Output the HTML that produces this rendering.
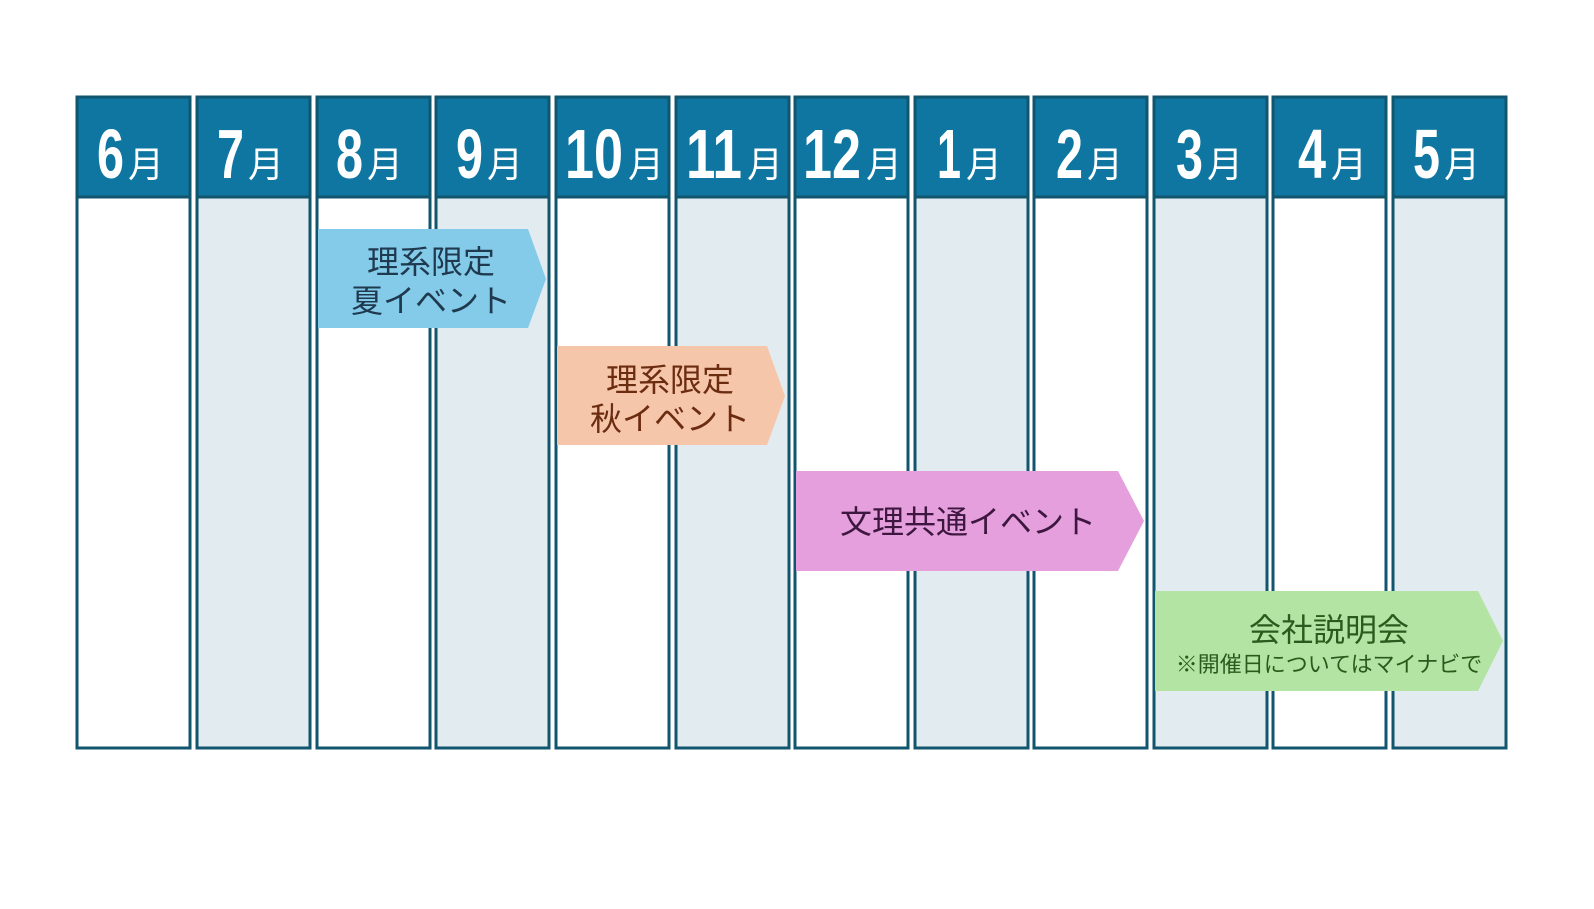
<!DOCTYPE html>
<html><head><meta charset="utf-8"><style>
html,body{margin:0;padding:0;background:#fff;}
svg{display:block;}
.m{font-family:"Liberation Sans",sans-serif;font-weight:bold;fill:#fff;}
.k{font-family:"Liberation Sans","Noto Sans CJK JP",sans-serif;fill:#fff;}
.j{font-family:"Liberation Sans","Noto Sans CJK JP",sans-serif;}
</style></head><body>
<svg width="1594" height="909" viewBox="0 0 1594 909" xmlns="http://www.w3.org/2000/svg">
<g stroke="#11556e" stroke-width="3">
<rect x="77" y="97" width="113" height="651" fill="#fff"/>
<rect x="197" y="97" width="113" height="651" fill="#e2ebef"/>
<rect x="317" y="97" width="113" height="651" fill="#fff"/>
<rect x="436" y="97" width="113" height="651" fill="#e2ebef"/>
<rect x="556" y="97" width="113" height="651" fill="#fff"/>
<rect x="676" y="97" width="113" height="651" fill="#e2ebef"/>
<rect x="795" y="97" width="113" height="651" fill="#fff"/>
<rect x="915" y="97" width="113" height="651" fill="#e2ebef"/>
<rect x="1034" y="97" width="113" height="651" fill="#fff"/>
<rect x="1154" y="97" width="113" height="651" fill="#e2ebef"/>
<rect x="1273" y="97" width="113" height="651" fill="#fff"/>
<rect x="1393" y="97" width="113" height="651" fill="#e2ebef"/>
</g>
<g fill="#0e76a0" stroke="#11556e" stroke-width="3">
<rect x="77" y="97" width="113" height="100"/>
<rect x="197" y="97" width="113" height="100"/>
<rect x="317" y="97" width="113" height="100"/>
<rect x="436" y="97" width="113" height="100"/>
<rect x="556" y="97" width="113" height="100"/>
<rect x="676" y="97" width="113" height="100"/>
<rect x="795" y="97" width="113" height="100"/>
<rect x="915" y="97" width="113" height="100"/>
<rect x="1034" y="97" width="113" height="100"/>
<rect x="1154" y="97" width="113" height="100"/>
<rect x="1273" y="97" width="113" height="100"/>
<rect x="1393" y="97" width="113" height="100"/>
</g>
<g class="m" font-size="70">
<text x="97" y="178" textLength="27" lengthAdjust="spacingAndGlyphs">6</text>
<text x="217" y="178" textLength="27" lengthAdjust="spacingAndGlyphs">7</text>
<text x="336" y="178" textLength="27" lengthAdjust="spacingAndGlyphs">8</text>
<text x="456" y="178" textLength="27" lengthAdjust="spacingAndGlyphs">9</text>
<text x="565" y="178" textLength="58" lengthAdjust="spacingAndGlyphs">10</text>
<text x="686" y="178" textLength="56" lengthAdjust="spacingAndGlyphs">11</text>
<text x="803" y="178" textLength="58" lengthAdjust="spacingAndGlyphs">12</text>
<text x="937" y="178" textLength="24" lengthAdjust="spacingAndGlyphs">1</text>
<text x="1056" y="178" textLength="27" lengthAdjust="spacingAndGlyphs">2</text>
<text x="1176" y="178" textLength="27" lengthAdjust="spacingAndGlyphs">3</text>
<text x="1298" y="178" textLength="28" lengthAdjust="spacingAndGlyphs">4</text>
<text x="1413" y="178" textLength="27" lengthAdjust="spacingAndGlyphs">5</text>
</g>
<g class="k" font-size="36">
<text x="128" y="177">月</text>
<text x="248" y="177">月</text>
<text x="367" y="177">月</text>
<text x="487" y="177">月</text>
<text x="628" y="177">月</text>
<text x="747" y="177">月</text>
<text x="866" y="177">月</text>
<text x="966" y="177">月</text>
<text x="1087" y="177">月</text>
<text x="1207" y="177">月</text>
<text x="1331" y="177">月</text>
<text x="1444" y="177">月</text>
</g>
<polygon points="318,229 528,229 546,279 528,328 318,328" fill="#84cbea"/>
<polygon points="557,346 767,346 785,396 767,445 557,445" fill="#f6c6aa"/>
<polygon points="796,471 1118,471 1144,521 1118,571 796,571" fill="#e49fdc"/>
<polygon points="1155,591 1478,591 1503,641 1478,691 1155,691" fill="#b4e4a3"/>
<g class="j" text-anchor="middle" font-size="32">
<text x="431" y="273" fill="#1f3a4f">理系限定</text>
<text x="431" y="312" fill="#1f3a4f">夏イベント</text>
<text x="670" y="391" fill="#6b2c10">理系限定</text>
<text x="670" y="430" fill="#6b2c10">秋イベント</text>
<text x="968" y="533" fill="#3e1740">文理共通イベント</text>
<text x="1329" y="641" fill="#2b5a1e">会社説明会</text>
<text x="1329" y="672" fill="#2b5a1e" font-size="22">※開催日についてはマイナビで</text>
</g>
</svg>
</body></html>
